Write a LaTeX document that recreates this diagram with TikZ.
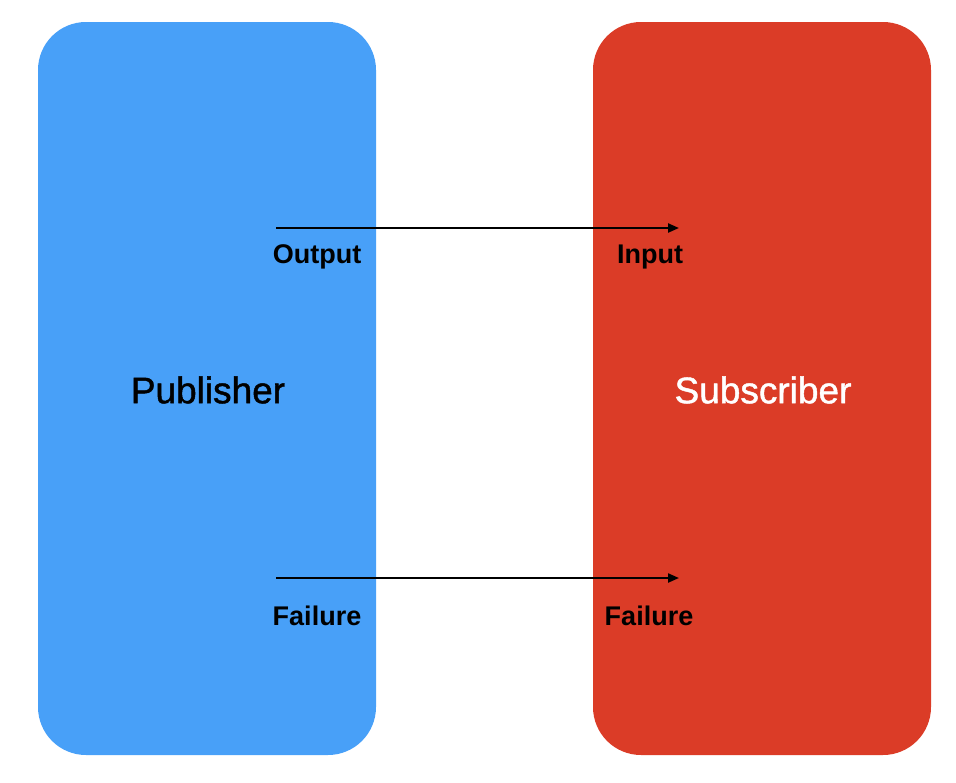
\documentclass[tikz,border=0pt]{standalone}
\usepackage{fontspec}
\setmainfont{Liberation Sans}
\newfontfamily\medfont{Liberation Sans}[RawFeature={embolden=1.2}]
\usetikzlibrary{arrows.meta}
\definecolor{pubblue}{HTML}{48A0F8}
\definecolor{subred}{HTML}{DB3C27}
\begin{document}
\begin{tikzpicture}[x=1pt,y=-1pt,
  panel/.style={rounded corners=48pt, minimum width=338pt, minimum height=733pt, inner sep=0pt, outer sep=0pt},
  title/.style={font=\medfont\fontsize{37}{42}\selectfont},
  port/.style={font=\bfseries\fontsize{27}{31}\selectfont, text=black},
  link/.style={line width=2.2pt, -{Triangle[length=11pt,width=9pt]}}]
  \useasboundingbox (0,0) rectangle (956,782);
  % the two components
  \node[panel, fill=pubblue] (pub) at (207,388.5) {};
  \node[panel, fill=subred] (sub) at (762,388.5) {};
  \node[title, text=black] (pubname) at (208,390) {Publisher};
  \node[title, text=white] (subname) at (763,390) {Subscriber};
  % port anchors
  \coordinate (outp) at (276,228);
  \coordinate (inp) at (679,228);
  \coordinate (pfail) at (276,578);
  \coordinate (sfail) at (679,578);
  % port labels
  \node[port] (outlbl) at (317,257) {Output};
  \node[port] (inlbl) at (650,257) {Input};
  \node[port] (pfaillbl) at (317,616) {Failure};
  \node[port] (sfaillbl) at (649,616) {Failure};
  % connections
  \draw[link] (outp) -- (inp);
  \draw[link] (pfail) -- (sfail);
\end{tikzpicture}
\end{document}
